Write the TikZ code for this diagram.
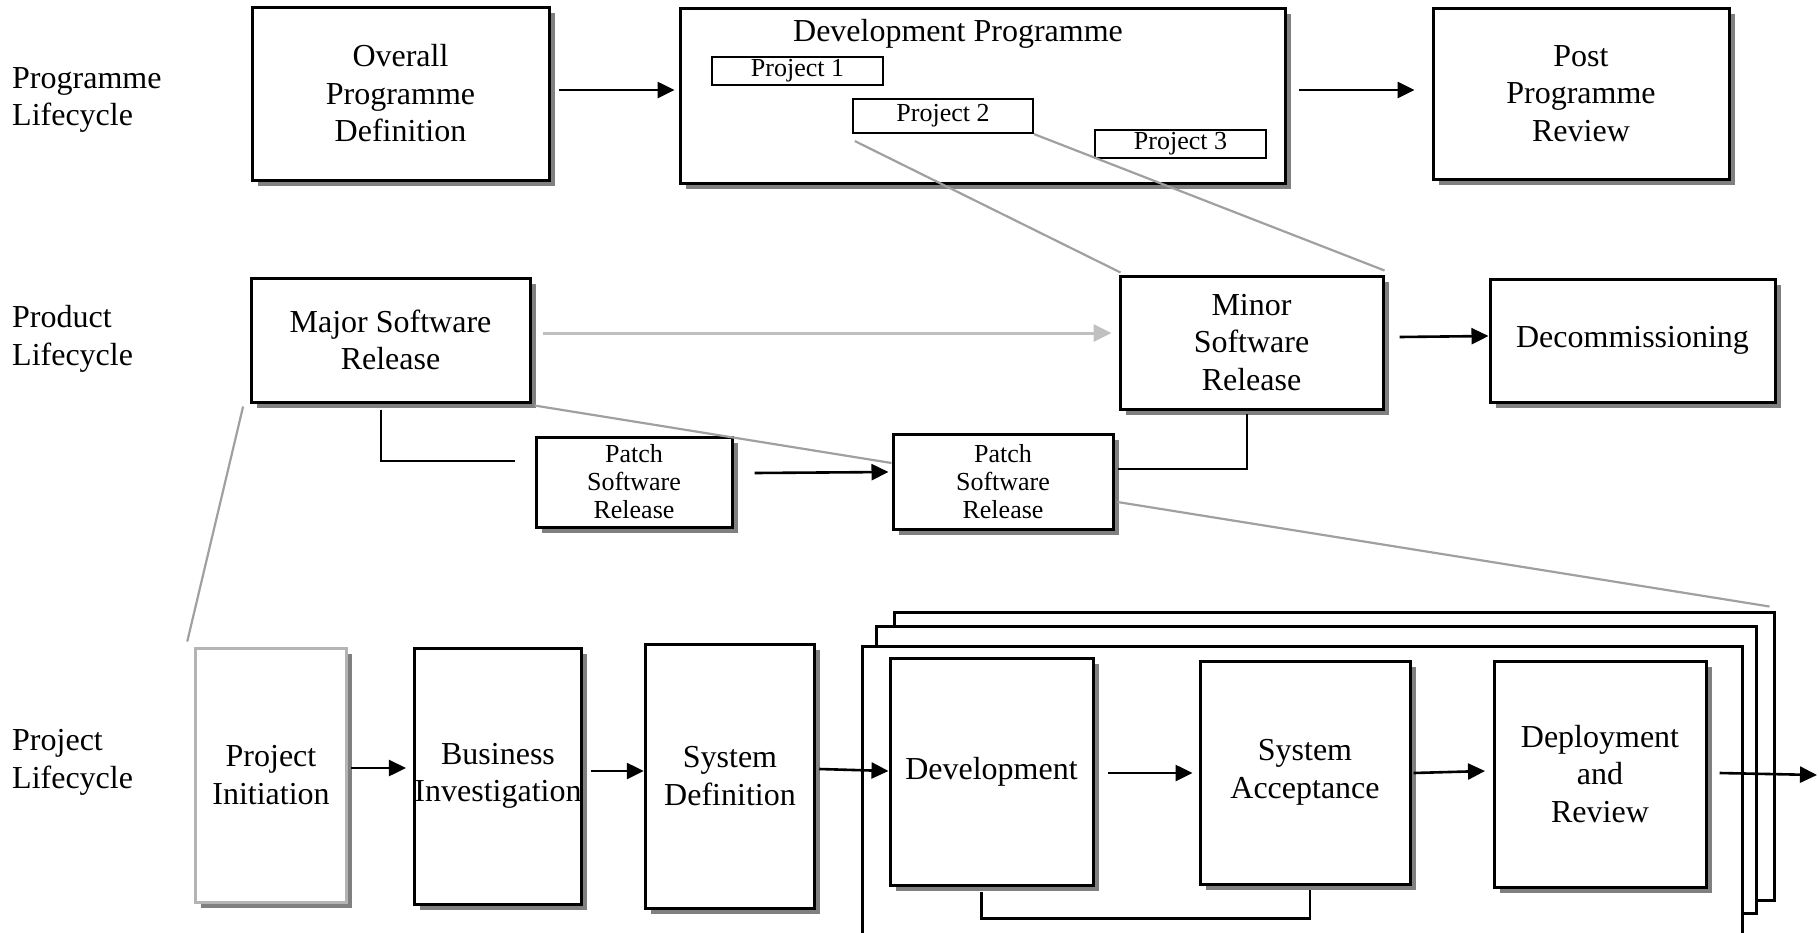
\documentclass[tikz,border=0pt]{standalone}
\usepackage{fontspec}
\setmainfont{Liberation Serif}
\usetikzlibrary{arrows.meta,shadows,calc}
\definecolor{shadowgray}{HTML}{808080}
\definecolor{linkgray}{HTML}{A0A0A0}
\definecolor{softgray}{HTML}{C0C0C0}
\definecolor{rimgray}{HTML}{B4B4B4}
\begin{document}
\begin{tikzpicture}[x=1pt,y=-1pt,
  bigtext/.style={font=\fontsize{32}{37.5}\selectfont},
  midtext/.style={font=\fontsize{26}{28}\selectfont},
  box/.style={draw=black, line width=3pt, fill=white, inner sep=0pt, align=center, bigtext,
    drop shadow={shadow xshift=5.5pt, shadow yshift=-5.5pt, fill=shadowgray, opacity=1}},
  smallbox/.style={box, midtext},
  projbox/.style={draw=black, line width=2.2pt, fill=white, inner sep=0pt, midtext},
  frame/.style={draw=black, line width=3pt, fill=white, inner sep=0pt},
  rowlabel/.style={anchor=west, align=left, inner sep=0pt, bigtext},
  conn/.style={draw=black, line width=2.6pt},
  arr/.style={conn, -{Triangle[length=17pt, width=16pt]}},
  softarr/.style={draw=softgray, line width=3pt, -{Triangle[length=18pt, width=17pt]}},
  zoomline/.style={draw=linkgray, line width=2.2pt}]

\useasboundingbox (0,0) rectangle (1819,932);

% ---- row labels ----
\node[rowlabel] (lprog) at (12,100) {Programme\\Lifecycle};
\node[rowlabel] (lprod) at (12,339) {Product\\Lifecycle};
\node[rowlabel] (lproj) at (12,762.5) {Project\\Lifecycle};

% ---- programme lifecycle ----
\node[box, minimum width=297pt, minimum height=173pt] (ovr) at (400.5,93.5) {Overall\\Programme\\Definition};
\node[box, minimum width=605pt, minimum height=175pt] (dev) at (982.5,95.5) {};
\node[inner sep=0pt, bigtext] (devtitle) at (958,34) {Development Programme};
\node[projbox, minimum width=171pt, minimum height=28pt] (p1) at (797.5,71) {Project 1};
\node[projbox, minimum width=180pt, minimum height=34pt] (p2) at (943,116) {Project 2};
\node[projbox, minimum width=171pt, minimum height=28pt] (p3) at (1180.5,144) {Project 3};
\node[box, minimum width=296pt, minimum height=171pt] (post) at (1581,93.5) {Post\\Programme\\Review};

% ---- product lifecycle ----
\node[box, minimum width=279pt, minimum height=124pt] (major) at (390.5,340) {Major Software\\Release};
\node[box, minimum width=263pt, minimum height=133pt] (minor) at (1251.5,342.5) {Minor\\Software\\Release};
\node[box, minimum width=285pt, minimum height=123pt] (decom) at (1632.5,340.5) {Decommissioning};
\node[smallbox, minimum width=196pt, minimum height=90pt] (patch1) at (634,482) {Patch\\Software\\Release};
\node[smallbox, minimum width=220pt, minimum height=95pt] (patch2) at (1003,481.5) {Patch\\Software\\Release};

% ---- project lifecycle: stacked iterations ----
\node[frame, minimum width=879.5pt, minimum height=288pt] (fback) at (1334.25,756) {};
\node[frame, minimum width=880pt, minimum height=287pt] (fmid) at (1316.6,769.5) {};
\node[frame, minimum width=880pt, minimum height=294pt] (ffront) at (1302,793) {};

\node[box, draw=rimgray, minimum width=151.5pt, minimum height=254pt] (pi) at (271,775) {Project\\Initiation};
\node[box, minimum width=162pt, minimum height=256pt] (bi) at (498,776) {Business\\Investigation};
\node[box, minimum width=169.5pt, minimum height=264pt] (sd) at (730,776) {System\\Definition};
\node[box, minimum width=203pt, minimum height=227pt] (devm) at (991.5,771.5) {Development};
\node[box, minimum width=210pt, minimum height=223pt] (sa) at (1305,772.5) {System\\Acceptance};
\node[box, minimum width=212pt, minimum height=226pt] (dr) at (1600,774) {Deployment\\and\\Review};
\coordinate (out) at (1817,775);

% ---- zoom-out guide lines ----
\draw[zoomline] ($(p2.south west)+(3,7)$) -- ($(minor.north west)+(2,-2)$);
\draw[zoomline] (p2.south east) -- ($(minor.north east)+(0,-4)$);
\draw[zoomline] ($(major.south east)+(3,2)$) -- ($(patch2.west)+(0,-18.5)$);
\draw[zoomline] ($(major.south west)+(-6.4,3)$) -- ($(pi.north west)+(-6.5,-5)$);
\draw[zoomline] ($(patch2.east)+(3,20.5)$) -- ($(fback.north east)+(-6,-4)$);

% ---- flow connectors ----
\draw[arr] ($(ovr.east)+(8,-3.5)$) -- ($(dev.west)+(-4,-5.5)$);
\draw[arr] ($(dev.east)+(12,-5.5)$) -- ($(post.west)+(-17,-3.5)$);
\draw[softarr] ($(major.east)+(11.5,-7)$) -- ($(minor.west)+(-7,-9.5)$);
\draw[arr] ($(minor.east)+(15,-5.5)$) -- ($(decom.west)+(0,-4.5)$);
\draw[arr] ($(patch1.east)+(21,-9)$) -- ($(patch2.west)+(-3,-9.5)$);
\draw[conn] ($(major.south)+(-9.5,6)$) |- ($(patch1.west)+(-20,-21)$);
\draw[conn] ($(patch2.east)+(3,-12.5)$) -| ($(minor.south)+(-4.5,3)$);

\draw[arr] ($(pi.east)+(3,-7)$) -- ($(bi.west)+(-7,-8)$);
\draw[arr] ($(bi.east)+(7.6,-5)$) -- ($(sd.west)+(0,-5)$);
\draw[arr] ($(sd.east)+(3,-7)$) -- ($(devm.west)+(0,-0.5)$);
\draw[arr] ($(devm.east)+(13.5,1.5)$) -- ($(sa.west)+(-6,0.5)$);
\draw[arr] ($(sa.east)+(2,0.5)$) -- ($(dr.west)+(-7.5,-3)$);
\draw[arr] ($(dr.east)+(12,-1)$) -- (out);
\draw[conn] ($(devm.south)+(-10,5)$) -- ++(0,27) -| ($(sa.south)+(5,4)$);

\end{tikzpicture}
\end{document}
